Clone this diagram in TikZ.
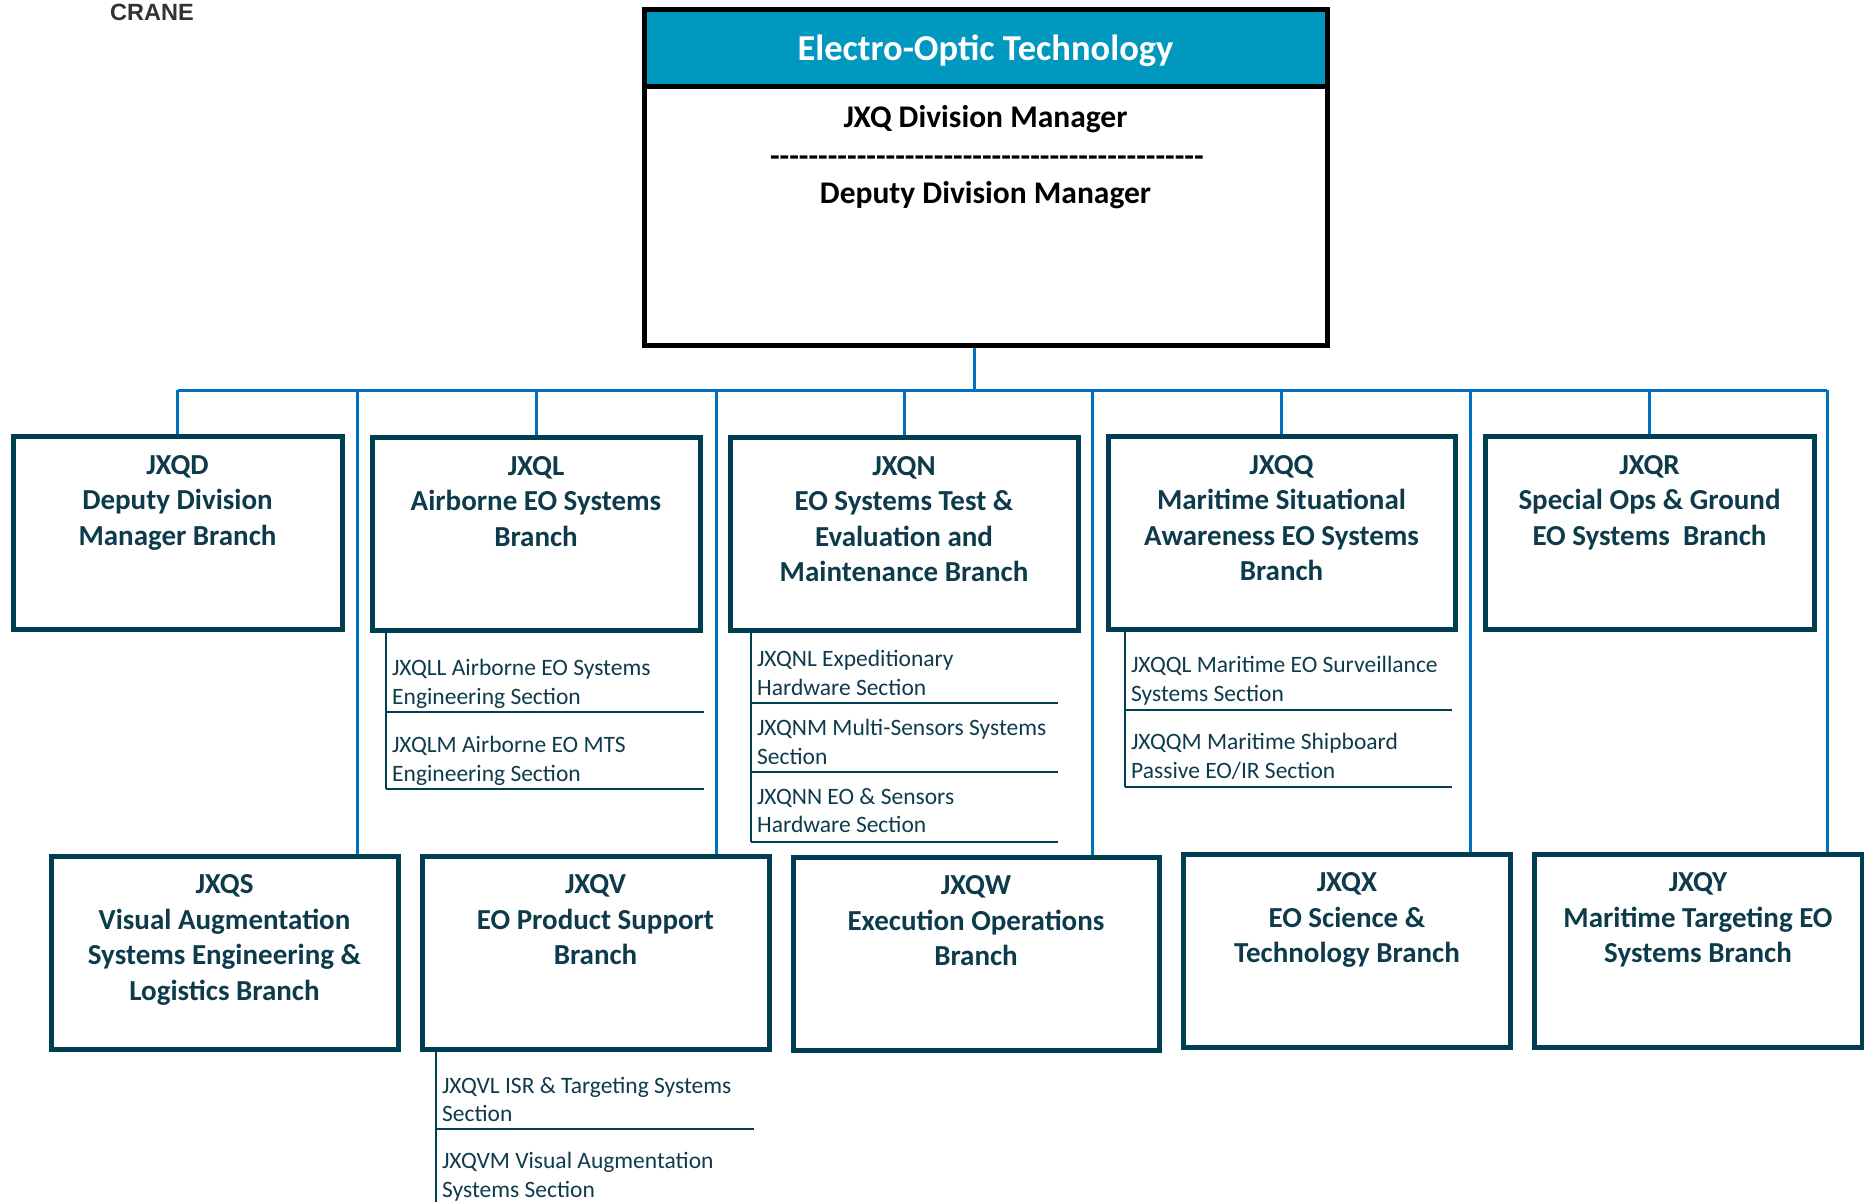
\documentclass[tikz,border=0pt]{standalone}
\usepackage{fontspec}
\setmainfont{Carlito}
\newfontfamily\arialfont{Liberation Sans}
\usetikzlibrary{positioning}
\definecolor{hdrblue}{HTML}{0098BE}
\definecolor{busblue}{HTML}{0070C0}
\definecolor{dkteal}{HTML}{003F51}
\definecolor{txteal}{HTML}{0E3B4B}
\definecolor{cranegray}{HTML}{333333}
\newcommand\hyphrow{\foreach \i in {1,...,45}{-}}
\begin{document}
\begin{tikzpicture}[x=1pt,y=-1pt,
  branchbox/.style={draw=dkteal, line width=5pt, rectangle, inner sep=0pt, minimum width=#1, minimum height=193pt},
  brtext/.style={font=\bfseries\fontsize{29}{35.5}\selectfont, text=txteal, align=center, inner sep=0pt, anchor=north},
  sect/.style={font=\fontsize{23.5}{28.5}\selectfont, text=txteal, align=left, inner sep=0pt, anchor=north west},
  secrule/.style={draw=dkteal, line width=2.5pt},
  busline/.style={draw=busblue, line width=3pt},
  mgr/.style={font=\bfseries\fontsize{31.5}{36}\selectfont, text=black, inner sep=0pt, anchor=base}
]
\useasboundingbox (0,0) rectangle (1864,1202);

% CRANE
\node[font=\arialfont\bfseries\fontsize{23.5}{26}\selectfont, text=cranegray, inner sep=0pt, anchor=base] (crane) at (152,20.7) {CRANE};

% Top box
\node[fill=hdrblue, minimum width=683, minimum height=76.5, inner sep=0pt] (hdr) at (985.5,47.75) {};
\node[font=\bfseries\fontsize{36.5}{40}\selectfont, text=white, inner sep=0pt, anchor=base] (title) at (985.5,60) {Electro-Optic Technology};
\node[draw=black, line width=5pt, minimum width=683, minimum height=335.5, inner sep=0pt] (top) at (985.5,177.25) {};
\draw[line width=5pt] (hdr.south west) -- (hdr.south east);
\node[mgr] (dm) at (985.5,127) {JXQ Division Manager};
\node[mgr] (dash) at (987,166) {\hyphrow};
\node[mgr] (ddm) at (985.5,203) {Deputy Division Manager};

% Top-row branch boxes
\node[branchbox=329] (jxqd) at (177.5,533) {};
\node[branchbox=328] (jxql) at (536,534) {};
\node[branchbox=348] (jxqn) at (904,534) {};
\node[branchbox=347] (jxqq) at (1281.5,533) {};
\node[branchbox=329] (jxqr) at (1649.5,533) {};

\node[brtext, below=21pt of jxqd.north] (jxqd-t) {JXQD\\Deputy Division\\Manager Branch};
\node[brtext, below=21pt of jxql.north] (jxql-t) {JXQL\\Airborne EO Systems\\Branch};
\node[brtext, below=21pt of jxqn.north] (jxqn-t) {JXQN\\EO Systems Test \&\\Evaluation and\\Maintenance Branch};
\node[brtext, below=21pt of jxqq.north] (jxqq-t) {JXQQ\\Maritime Situational\\Awareness EO Systems\\Branch};
\node[brtext, below=21pt of jxqr.north] (jxqr-t) {JXQR\\Special Ops \& Ground\\EO Systems\ \ Branch};

% Bottom-row branch boxes
\node[branchbox=347] (jxqs) at (224.5,952.5) {};
\node[branchbox=347] (jxqv) at (595.5,952.5) {};
\node[branchbox=366] (jxqw) at (976,953.5) {};
\node[branchbox=327] (jxqx) at (1347,950.5) {};
\node[branchbox=328] (jxqy) at (1698,950.5) {};

\node[brtext, below=21pt of jxqs.north] (jxqs-t) {JXQS\\Visual Augmentation\\Systems Engineering \&\\Logistics Branch};
\node[brtext, below=21pt of jxqv.north] (jxqv-t) {JXQV\\EO Product Support\\Branch};
\node[brtext, below=21pt of jxqw.north] (jxqw-t) {JXQW\\Execution Operations\\Branch};
\node[brtext, below=21pt of jxqx.north] (jxqx-t) {JXQX\\EO Science \&\\Technology Branch};
\node[brtext, below=21pt of jxqy.north] (jxqy-t) {JXQY\\Maritime Targeting EO\\Systems Branch};

% Bus connectors
\coordinate (bus) at (974,390);
\coordinate (vS) at (357,390);
\coordinate (vV) at (716,390);
\coordinate (vW) at (1092,390);
\coordinate (vX) at (1470,390);
\coordinate (vY) at (1827,390);
\draw[busline] (bus |- top.south) -- (bus);
\draw[busline] (jxqd.north |- bus) -- (vY);
\foreach \b in {jxqd,jxql,jxqn,jxqq,jxqr}{
  \draw[busline] (\b.north |- bus) -- (\b.north);
}
\draw[busline] (vS) -- (vS |- jxqs.north);
\draw[busline] (vV) -- (vV |- jxqv.north);
\draw[busline] (vW) -- (vW |- jxqw.north);
\draw[busline] (vX) -- (vX |- jxqx.north);
\draw[busline] (vY) -- (vY |- jxqy.north);

% JXQL sections
\draw[secrule] (386,631) -- (386,789);
\node[sect] (jxqll) at (392,659) {JXQLL Airborne EO Systems\\Engineering Section};
\draw[secrule] (386,712) -- (704,712);
\node[sect] (jxqlm) at (392,736) {JXQLM Airborne EO MTS\\Engineering Section};
\draw[secrule] (386,789) -- (704,789);

% JXQN sections
\draw[secrule] (751,631) -- (751,842);
\node[sect] (jxqnl) at (757,650) {JXQNL Expeditionary\\Hardware Section};
\draw[secrule] (751,703) -- (1058,703);
\node[sect] (jxqnm) at (757,719) {JXQNM Multi-Sensors Systems\\Section};
\draw[secrule] (751,772) -- (1058,772);
\node[sect] (jxqnn) at (757,788) {JXQNN EO \& Sensors\\Hardware Section};
\draw[secrule] (751,842) -- (1058,842);

% JXQQ sections
\draw[secrule] (1125,630) -- (1125,787);
\node[sect] (jxqql) at (1131,656) {JXQQL Maritime EO Surveillance\\Systems Section};
\draw[secrule] (1125,710) -- (1452,710);
\node[sect] (jxqqm) at (1131,733) {JXQQM Maritime Shipboard\\Passive EO/IR Section};
\draw[secrule] (1125,787) -- (1452,787);

% JXQV sections
\draw[secrule] (436,1049) -- (436,1202);
\node[sect] (jxqvl) at (442,1077) {JXQVL ISR \& Targeting Systems\\Section};
\draw[secrule] (436,1129) -- (754,1129);
\node[sect] (jxqvm) at (442,1152) {JXQVM Visual Augmentation\\Systems Section};
\end{tikzpicture}
\end{document}
